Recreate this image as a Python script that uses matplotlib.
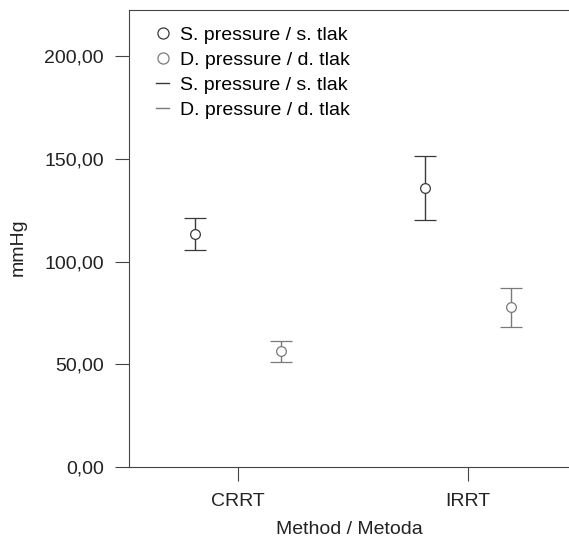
import numpy as np
import matplotlib.pyplot as plt
from matplotlib.lines import Line2D

plt.rcParams['font.family'] = ['Liberation Sans', 'DejaVu Sans']

# Data
methods = ["CRRT", "IRRT"]
sys_mean = [113.2, 135.8]
sys_low = [105.4, 120.2]
sys_high = [121.3, 151.2]
dia_mean = [56.6, 77.7]
dia_low = [51.2, 68.3]
dia_high = [61.3, 87.0]

c_sys = "#3a3a3a"
c_dia = "#7a7a7a"

fig = plt.figure(figsize=(5.69, 5.38), dpi=100)
ax = fig.add_axes([129 / 569, 71 / 538, 440 / 569, 457 / 538])

x = np.arange(len(methods))
off = 0.185

def draw(xs, m, lo, hi, col):
    m = np.array(m)
    err = [m - np.array(lo), np.array(hi) - m]
    ax.errorbar(xs, m, yerr=err, fmt="o", mfc="white", mec=col, ecolor=col,
                ms=7, mew=0.9, elinewidth=1.0, capsize=8, capthick=1.0)

draw(x - off, sys_mean, sys_low, sys_high, c_sys)
draw(x + off, dia_mean, dia_low, dia_high, c_dia)

ax.set_xlim(-0.474, 1.439)
ax.set_ylim(0, 222.4)
ax.set_yticks([0, 50, 100, 150, 200])
ax.set_yticklabels(["0,00", "50,00", "100,00", "150,00", "200,00"])
ax.set_xticks(x)
ax.set_xticklabels(methods)
ax.tick_params(labelsize=14, length=10, width=0.8, color="#444444", labelcolor="#222222", pad=8)
ax.tick_params(axis="x", pad=9)
ax.set_xlabel("Method / Metoda", fontsize=14, color="#222222", labelpad=8)
ax.set_ylabel("mmHg", fontsize=14, color="#222222")
ax.yaxis.set_label_coords(-0.232, 0.48)
for s in ["left", "bottom", "top"]:
    ax.spines[s].set_color("#444444")
    ax.spines[s].set_linewidth(0.8)
ax.spines["right"].set_visible(False)

handles = [
    Line2D([], [], marker="o", ls="none", mfc="white", mec=c_sys, ms=8, mew=0.9),
    Line2D([], [], marker="o", ls="none", mfc="white", mec=c_dia, ms=8, mew=0.9),
    Line2D([], [], color=c_sys, lw=1.0),
    Line2D([], [], color=c_dia, lw=1.0),
]
labels = ["S. pressure / s. tlak", "D. pressure / d. tlak",
          "S. pressure / s. tlak", "D. pressure / d. tlak"]
ax.legend(handles, labels, loc="upper left", frameon=False, fontsize=14,
          handlelength=0.7, handletextpad=0.55, labelspacing=0.38,
          bbox_to_anchor=(0.03, 0.995), borderaxespad=0.3)

fig.savefig("out.png", dpi=100)
